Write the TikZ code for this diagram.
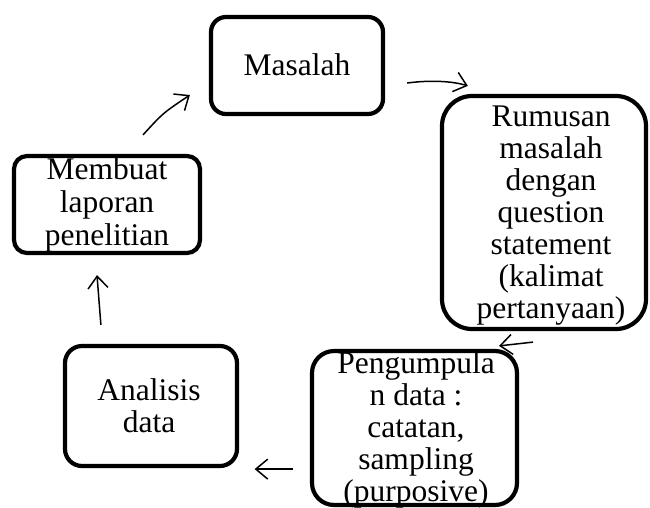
\documentclass[tikz,border=0pt]{standalone}
\usepackage{fontspec}
\setmainfont{Liberation Serif}
\usetikzlibrary{arrows.meta,backgrounds}
% centred lines with a fixed distance between baselines; the box's baseline is the first line's
\newcommand\cellstack[1]{\vtop{\lineskiplimit=-100pt\lineskip=0pt\halign{\hfil##\hfil\cr#1\crcr}}}
\begin{document}
\begin{tikzpicture}[x=1pt,y=-1pt,
  stepbox/.style={draw=black,line width=4.2pt,inner sep=0pt,rectangle},
  lbl/.style={inner sep=0pt,anchor=base,font=\fontsize{31.5}{32}\selectfont},
  flow/.style={draw=black,line width=1.5pt,-{Straight Barb[length=12pt,width=20pt,line width=1.5pt]}}]
\useasboundingbox (0,0) rectangle (650,507);

% boxes
\node[stepbox,rounded corners=15pt,minimum width=172pt,minimum height=97pt] (mas) at (297,65.5) {};
\node[stepbox,rounded corners=30pt,minimum width=204pt,minimum height=233pt] (rum) at (544,212.5) {};
\node[stepbox,rounded corners=22pt,minimum width=205pt,minimum height=154pt] (pen) at (414.5,428) {};
\node[stepbox,rounded corners=17pt,minimum width=172pt,minimum height=120pt] (ana) at (151,406) {};
\node[stepbox,rounded corners=13pt,minimum width=186pt,minimum height=97pt] (mem) at (107,204.5) {};

% texts
\node[lbl] (masT) at (297,75) {Masalah};
\node[lbl] (rumT) at (551,126) {\cellstack{Rumusan\cr masalah\cr dengan\cr question\cr statement\cr (kalimat\cr pertanyaan)}};
\node[lbl] (penT) at (416,373) {\cellstack{Pengumpula\cr n data :\cr catatan,\cr sampling\cr (purposive)}};
\node[lbl] (anaT) at (149,400) {\cellstack{Analisis\cr data}};
\node[lbl,font=\fontsize{31.5}{33}\selectfont] (memT) at (107,179) {\cellstack{Membuat\cr laporan\cr penelitian}};

% connectors, kept beneath the box outlines
\begin{scope}[on background layer]
\fill[white] (0,0) rectangle (650,507);
\draw[flow] ([shift={(22,17.5)}]mas.east) .. controls (430,80) and (452,81) .. ([shift={(28,-8)}]rum.north west);
\draw[flow] ([shift={(-11,11)}]rum.south) -- ([shift={(84.5,-3)}]pen.north);
\draw[flow] ([shift={(-17,-38)}]pen.south west) -- ([shift={(15.5,1)}]ana.south east);
\draw[flow] ([shift={(38,-19)}]ana.north west) .. controls (99,300) .. ([shift={(-10,20)}]mem.south);
\draw[flow] ([shift={(36,-19)}]mem.north) .. controls (163,113) .. ([shift={(-19,29.5)}]mas.west);
\end{scope}
\end{tikzpicture}
\end{document}
